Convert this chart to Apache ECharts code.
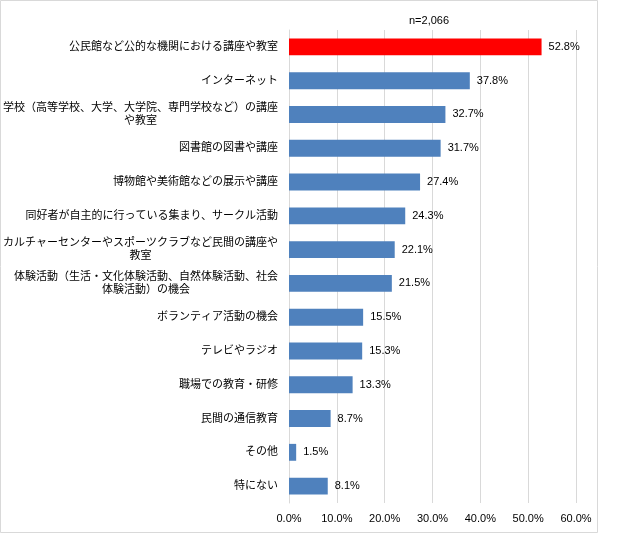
<!DOCTYPE html>
<html><head><meta charset="utf-8">
<script src="https://cdn.jsdelivr.net/npm/echarts@6/dist/echarts.min.js"></script>
<style>html,body{margin:0;padding:0;background:#fff}#c{width:626px;height:555px}</style>
</head><body><div id="c"></div>
<script>
var categories = [
  "公民館など公的な機関における講座や教室",
  "インターネット",
  "学校（高等学校、大学、大学院、専門学校など）の講座\nや教室",
  "図書館の図書や講座",
  "博物館や美術館などの展示や講座",
  "同好者が自主的に行っている集まり、サークル活動",
  "カルチャーセンターやスポーツクラブなど民間の講座や\n教室",
  "体験活動（生活・文化体験活動、自然体験活動、社会\n体験活動）の機会",
  "ボランティア活動の機会",
  "テレビやラジオ",
  "職場での教育・研修",
  "民間の通信教育",
  "その他",
  "特にない"
];
var values = [52.8, 37.8, 32.7, 31.7, 27.4, 24.3, 22.1, 21.5, 15.5, 15.3, 13.3, 8.7, 1.5, 8.1];
var highlightIndex = 0;
var sampleNote = "n=2,066";
var xTicks = [0, 10, 20, 30, 40, 50, 60];

var font = "'Liberation Sans','Noto Sans CJK JP',sans-serif";
var chart = echarts.init(document.getElementById('c'), null, {renderer: 'canvas'});
var lblStyle = {color: '#000', fontSize: 11, fontFamily: font, lineHeight: 13};
chart.setOption({
  animation: false,
  backgroundColor: '#fff',
  grid: {left: 288, right: 50, top: 30, bottom: 52, containLabel: false},
  graphic: [
    {type: 'rect', shape: {x: 0.5, y: 0.5, width: 597, height: 532}, style: {fill: 'none', stroke: '#D9D9D9', lineWidth: 1}, z: -1},
    {type: 'text', left: 409, top: 15, style: {text: sampleNote, font: '11px ' + font, fill: '#000'}}
  ],
  xAxis: {
    type: 'value', min: xTicks[0], max: xTicks[xTicks.length - 1], interval: 10,
    axisLine: {show: false}, axisTick: {show: false},
    splitLine: {lineStyle: {color: '#D9D9D9', width: 1}},
    axisLabel: {formatter: function (v) { return v.toFixed(1) + '%'; }, color: '#000', fontSize: 11, fontFamily: font, margin: 10}
  },
  yAxis: {
    type: 'category', data: categories, inverse: true,
    axisLine: {show: true, lineStyle: {color: '#D9D9D9'}}, axisTick: {show: false},
    axisLabel: {color: '#000', fontSize: 11, fontFamily: font, margin: 11, lineHeight: 13, align: 'right',
      formatter: function (v) {
        var parts = v.split('\n');
        if (parts.length === 1) return v;
        return '{a|' + parts[0] + '}\n{b|' + parts[1] + '}';
      },
      rich: {
        a: Object.assign({align: 'right'}, lblStyle),
        b: Object.assign({align: 'center'}, lblStyle)
      }
    }
  },
  series: [{
    type: 'bar', barCategoryGap: '50%',
    data: values.map(function (v, i) {
      return {value: v, itemStyle: {color: i === highlightIndex ? '#FF0000' : '#4F81BD'}};
    }),
    label: {show: true, position: 'right', distance: 7, color: '#000', fontSize: 11, fontFamily: font,
      formatter: function (p) { return p.value.toFixed(1) + '%'; }}
  }]
});
</script></body></html>
